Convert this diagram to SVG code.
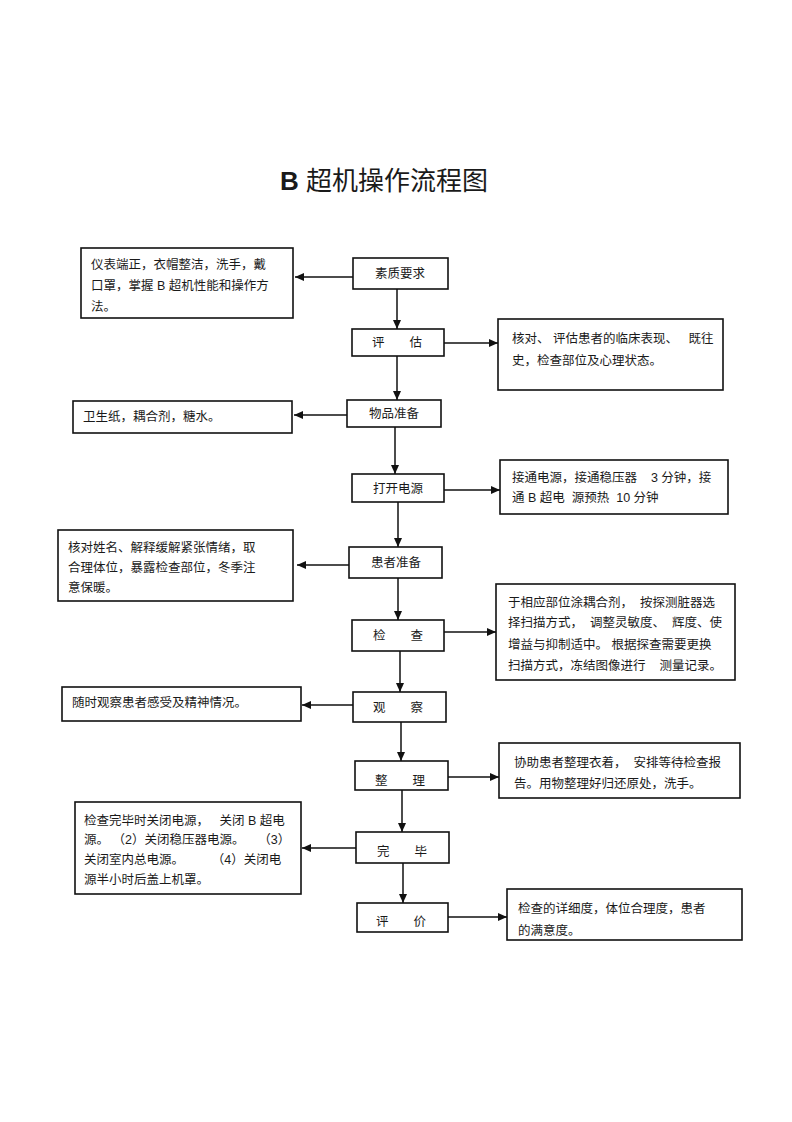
<svg xmlns="http://www.w3.org/2000/svg" width="792" height="1122" viewBox="0 0 792 1122" xml:space="preserve">
<style>
.box{fill:#fff;stroke:#111;stroke-width:1.6}
.t{font-family:"Liberation Sans","Noto Sans CJK SC",sans-serif;font-size:12.5px;fill:#1a1a1a;white-space:pre}
.c{text-anchor:middle}
.ln{stroke:#111;stroke-width:1.5;fill:none;marker-end:url(#ah)}
</style>
<defs>
<marker id="ah" markerUnits="userSpaceOnUse" markerWidth="10" markerHeight="8" refX="9" refY="4" orient="auto">
<path d="M0,0 L9,4 L0,8 Z" fill="#111"/>
</marker>
</defs>
<rect width="792" height="1122" fill="#fff"/>
<text x="280" y="190" style="font-family:'Liberation Sans','Noto Sans CJK SC',sans-serif;font-size:26px;fill:#1a1a1a"><tspan font-weight="bold">B</tspan> 超机操作流程图</text>

<g id="connectors">
<path class="ln" d="M397,289 V329"/>
<path class="ln" d="M397,356 V400"/>
<path class="ln" d="M395,427 V474"/>
<path class="ln" d="M398,502 V547"/>
<path class="ln" d="M398,578 V620"/>
<path class="ln" d="M400,651 V692"/>
<path class="ln" d="M401,722 V761"/>
<path class="ln" d="M402,790 V832"/>
<path class="ln" d="M403,863 V903"/>
<path class="ln" d="M353,277 H295"/>
<path class="ln" d="M444,343 H498"/>
<path class="ln" d="M347,415 H294"/>
<path class="ln" d="M444,490 H500"/>
<path class="ln" d="M349,565 H297"/>
<path class="ln" d="M444,632 H496"/>
<path class="ln" d="M353,705 H302"/>
<path class="ln" d="M448,777 H499"/>
<path class="ln" d="M356,848 H302"/>
<path class="ln" d="M448,917 H507"/>
</g>

<g id="n1"><rect class="box" x="353" y="258" width="95" height="31"/><text class="t c" x="400" y="278">素质要求</text></g>
<g id="n2"><rect class="box" x="352" y="329" width="92" height="27"/><text class="t c" x="397" y="347">评　　估</text></g>
<g id="n3"><rect class="box" x="347" y="400" width="94" height="27"/><text class="t c" x="394" y="418">物品准备</text></g>
<g id="n4"><rect class="box" x="352" y="474" width="92" height="28"/><text class="t c" x="398" y="493">打开电源</text></g>
<g id="n5"><rect class="box" x="349" y="547" width="93" height="31"/><text class="t c" x="396" y="567">患者准备</text></g>
<g id="n6"><rect class="box" x="352" y="620" width="92" height="31"/><text class="t c" x="398" y="640">检　　查</text></g>
<g id="n7"><rect class="box" x="353" y="692" width="93" height="30"/><text class="t c" x="398" y="712">观　　察</text></g>
<g id="n8"><rect class="box" x="355" y="761" width="93" height="29"/><text class="t c" x="400" y="785">整　　理</text></g>
<g id="n9"><rect class="box" x="356" y="832" width="93" height="31"/><text class="t c" x="402" y="856">完　　毕</text></g>
<g id="n10"><rect class="box" x="357" y="903" width="91" height="29"/><text class="t c" x="401" y="926">评　　价</text></g>

<g id="l1"><rect class="box" x="81" y="248" width="212" height="70"/>
<text class="t" x="91" y="269">仪表端正，衣帽整洁，洗手，戴</text>
<text class="t" x="91" y="290">口罩，掌握 B 超机性能和操作方</text>
<text class="t" x="91" y="311">法。</text></g>

<g id="r2"><rect class="box" x="498" y="319" width="225" height="71"/>
<text class="t" x="512" y="343">核对、 评估患者的临床表现、   既往</text>
<text class="t" x="512" y="365">史，检查部位及心理状态。</text></g>

<g id="l3"><rect class="box" x="73" y="401" width="219" height="32"/>
<text class="t" x="83" y="421">卫生纸，耦合剂，糖水。</text></g>

<g id="r4"><rect class="box" x="500" y="460" width="228" height="54"/>
<text class="t" x="512" y="482">接通电源，接通稳压器    3 分钟，接</text>
<text class="t" x="512" y="502">通 B 超电  源预热  10 分钟</text></g>

<g id="l5"><rect class="box" x="58" y="530" width="235" height="71"/>
<text class="t" x="68" y="552">核对姓名、解释缓解紧张情绪，取</text>
<text class="t" x="68" y="572">合理体位，暴露检查部位，冬季注</text>
<text class="t" x="68" y="592">意保暖。</text></g>

<g id="r6"><rect class="box" x="496" y="584" width="239" height="96"/>
<text class="t" x="508" y="607">于相应部位涂耦合剂，  按探测脏器选</text>
<text class="t" x="508" y="627">择扫描方式，  调整灵敏度、  辉度、使</text>
<text class="t" x="508" y="649">增益与抑制适中。 根据探查需要更换</text>
<text class="t" x="508" y="670">扫描方式，冻结图像进行    测量记录。</text></g>

<g id="l7"><rect class="box" x="62" y="687" width="239" height="34"/>
<text class="t" x="72" y="707">随时观察患者感受及精神情况。</text></g>

<g id="r8"><rect class="box" x="499" y="743" width="241" height="55"/>
<text class="t" x="514" y="767">协助患者整理衣着，  安排等待检查报</text>
<text class="t" x="514" y="788">告。用物整理好归还原处，洗手。</text></g>

<g id="l9"><rect class="box" x="75" y="802" width="226" height="92"/>
<text class="t" x="84" y="825">检查完毕时关闭电源，   关闭 B 超电</text>
<text class="t" x="84" y="844">源。 （2）关闭稳压器电源。    （3）</text>
<text class="t" x="84" y="864">关闭室内总电源。        （4）关闭电</text>
<text class="t" x="84" y="884">源半小时后盖上机罩。</text></g>

<g id="r10"><rect class="box" x="507" y="889" width="235" height="51"/>
<text class="t" x="518" y="913">检查的详细度，体位合理度，患者</text>
<text class="t" x="518" y="935">的满意度。</text></g>
</svg>
